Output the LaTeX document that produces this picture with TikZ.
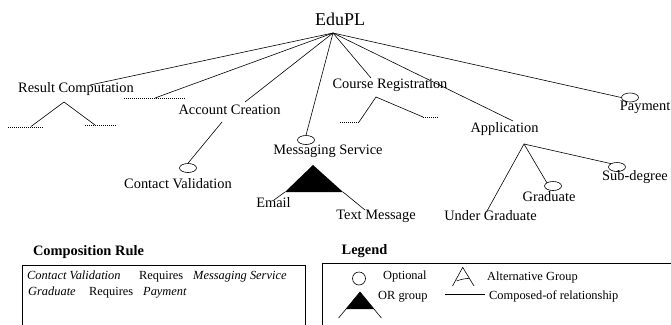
\documentclass[tikz,border=0pt]{standalone}
\usepackage{fontspec}
\setmainfont{Liberation Serif}
\usetikzlibrary{shapes.geometric}
\begin{document}
\begin{tikzpicture}[x=1pt,y=-1pt,
  lbl/.style={inner sep=0pt, anchor=base, font=\fontsize{14.4}{17}\selectfont},
  small/.style={inner sep=0pt, anchor=base west, font=\fontsize{12.4}{15}\selectfont},
  head/.style={inner sep=0pt, anchor=base, font=\fontsize{14.4}{17}\selectfont\bfseries},
  link/.style={line width=0.6pt},
  dots/.style={line width=0.7pt, dash pattern=on 0.8pt off 1.2pt},
  opt/.style={draw, ellipse, line width=0.6pt, minimum width=17pt, minimum height=9pt, inner sep=0pt},
  orfill/.style={fill=black},
  frame/.style={line width=0.8pt}]
\useasboundingbox (0,0) rectangle (671,324);

% ---- feature labels ----
\node[lbl, font=\fontsize{18}{21}\selectfont] (edu) at (340,25) {EduPL};
\node[lbl] (rc) at (76,92.5) {Result Computation};
\node[lbl] (ac) at (229.5,114) {Account Creation};
\node[lbl] (cv) at (178,188) {Contact Validation};
\node[lbl] (ms) at (328,154) {Messaging Service};
\node[lbl] (em) at (273.5,207) {Email};
\node[lbl] (tm) at (376,219) {Text Message};
\node[lbl] (cr) at (390,88) {Course Registration};
\node[lbl] (ap) at (504.5,132) {Application};
\node[lbl, anchor=base east] (pay) at (670.5,110.5) {Payment};
\node[lbl] (sd) at (635,180) {Sub-degree};
\node[lbl] (gr) at (549,201) {Graduate};
\node[lbl] (ug) at (490.5,220.5) {Under Graduate};

% ---- optional markers ----
\node[opt] (msO) at (306,140) {};
\node[opt] (cvO) at (188,168) {};
\node[opt] (payO) at (630,97.5) {};
\node[opt] (grO) at (553,186) {};
\node[opt] (sdO) at (617,167) {};

% ---- connection points ----
\coordinate (root) at (333,33);
\coordinate (rcT) at (90,85);
\coordinate (d1L) at (124,98);
\coordinate (d1R) at (185,98);
\coordinate (d1T) at (155,98);
\coordinate (acT) at (245,102);
\coordinate (crT) at (371,78);
\coordinate (apT) at (513,121);

\coordinate (rcA) at (64,102);
\coordinate (rcL) at (31,126.5);
\coordinate (rcLa) at (8,127);
\coordinate (rcLb) at (43,127);
\coordinate (rcR) at (95,125);
\coordinate (rcRa) at (85,125);
\coordinate (rcRb) at (116,125);

\coordinate (acB) at (222,122);

\coordinate (crA) at (376,97);
\coordinate (crL) at (359,122);
\coordinate (crLa) at (340,122);
\coordinate (crR) at (423,117);
\coordinate (crRb) at (438,117);

\coordinate (apA) at (524,144);
\coordinate (ugT) at (487,211);

\coordinate (orA) at (313,165);
\coordinate (orBL) at (285,192);
\coordinate (orBR) at (343,192);
\coordinate (emT) at (274,200);
\coordinate (tmT) at (365,210);

% ---- composed-of links from the root ----
\draw[link] (root) -- (rcT);
\draw[link] (root) -- (d1T);
\draw[link] (root) -- (acT);
\draw[link] (root) -- (msO.north);
\draw[link] (root) -- (crT);
\draw[link] (root) -- (apT);
\draw[link] (root) -- (payO.west);

% ---- sub-features ----
\draw[dots] (d1L) -- (d1R);
\draw[link] (rcL) -- (rcA) -- (rcR);
\draw[dots] (rcLa) -- (rcLb);
\draw[dots] (rcRa) -- (rcRb);

\draw[link] (acB) -- (cvO.north);

\draw[link] (crL) -- (crA) -- (crR);
\draw[dots] (crLa) -- (crL);
\draw[dots] (crR) -- (crRb);

\draw[link] (ugT) -- (apA) -- (grO.north west);
\draw[link] (apA) -- (sdO.north west);

% OR group under Messaging Service
\fill[orfill] (orA) -- (orBL) -- (orBR) -- cycle;
\draw[link] (orBL) -- (emT);
\draw[link] (orBR) -- (tmT);

% ---- composition rule box ----
\node[head] (crule) at (88.5,255) {Composition Rule};
\coordinate (cbBL) at (22,326);
\coordinate (cbTR) at (305,265);
\coordinate (cbBR) at (305,326);
\draw[frame] (cbBL) |- (cbTR) -- (cbBR);
\node[small] (r1a) at (27,279) {\itshape Contact Validation};
\node[small] (r1b) at (139,279) {Requires};
\node[small] (r1c) at (193,279) {\itshape Messaging Service};
\node[small] (r2a) at (28,295) {\itshape Graduate};
\node[small] (r2b) at (89,295) {Requires};
\node[small] (r2c) at (143,295) {\itshape Payment};

% ---- legend box ----
\node[head] (leg) at (364.5,254) {Legend};
\coordinate (lgBL) at (322,326);
\coordinate (lgTR) at (673,263);
\draw[frame] (lgBL) |- (lgTR);

\node[draw, circle, line width=0.6pt, minimum size=13pt, inner sep=0pt] (lgO) at (359,278.5) {};
\node[small] (lgOt) at (383,279) {Optional};

\coordinate (lgA) at (360,292);
\coordinate (lgB1) at (346,309);
\coordinate (lgB2) at (374,309);
\coordinate (lgL) at (338.6,318);
\coordinate (lgR) at (381.4,318);
\fill[orfill] (lgA) -- (lgB1) -- (lgB2) -- cycle;
\draw[link] (lgL) -- (lgA) -- (lgR);
\node[small] (lgORt) at (378,299) {OR group};

\coordinate (alA) at (462.7,267.3);
\coordinate (alL) at (452.5,286);
\coordinate (alR) at (474,286);
\coordinate (alC1) at (456.5,281);
\coordinate (alC2) at (469.5,278.3);
\draw[link] (alL) -- (alA) -- (alR);
\draw[link] (alC1) to[bend left=8] (alC2);
\node[small] (alt) at (487,280) {Alternative Group};

\coordinate (cpL) at (445,294);
\coordinate (cpR) at (485,294);
\draw[link] (cpL) -- (cpR);
\node[small] (cpt) at (489,299) {Composed-of relationship};
\end{tikzpicture}
\end{document}
